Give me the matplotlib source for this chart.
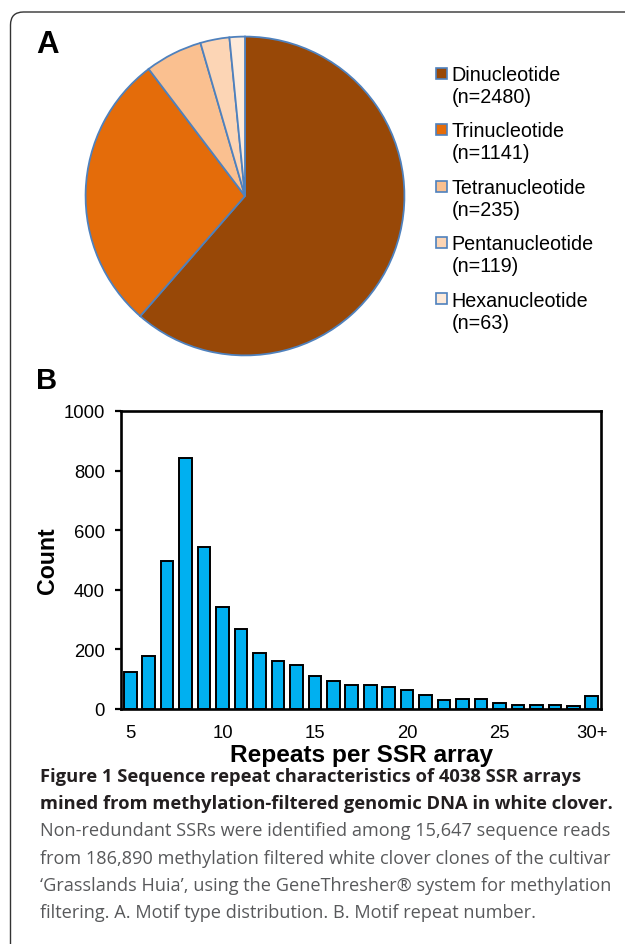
import matplotlib
matplotlib.use("Agg")
import matplotlib.pyplot as plt
from matplotlib.patches import FancyBboxPatch, Patch, Rectangle
from matplotlib.legend_handler import HandlerPatch

# ---------------- data ----------------
motif_names = ["Dinucleotide", "Trinucleotide", "Tetranucleotide", "Pentanucleotide", "Hexanucleotide"]
motif_counts = [2480, 1141, 235, 119, 63]
motif_colors = ["#984807", "#E46C0A", "#FAC090", "#FCD5B5", "#FDEADA"]

repeat_pos = list(range(5, 31))
repeat_counts = [123, 177, 495, 843, 544, 342, 268, 187, 160, 149, 111, 93, 81,
                 82, 75, 64, 47, 30, 34, 35, 19, 13, 12, 12, 9, 43]
xtick_pos = [5, 10, 15, 20, 25, 30]
xtick_labels = ["5", "10", "15", "20", "25", "30+"]
ytick_pos = [0, 200, 400, 600, 800, 1000]

caption_bold = ["Figure 1 Sequence repeat characteristics of 4038 SSR arrays",
                "mined from methylation-filtered genomic DNA in white clover."]
caption_reg = ["Non-redundant SSRs were identified among 15,647 sequence reads",
               "from 186,890 methylation filtered white clover clones of the cultivar",
               "\u2018Grasslands Huia\u2019, using the GeneThresher\u00ae system for methylation",
               "filtering. A. Motif type distribution. B. Motif repeat number."]

W, H = 625, 945
fig = plt.figure(figsize=(W / 100, H / 100), dpi=100)
plt.rcParams['font.family'] = ['Liberation Sans', 'DejaVu Sans']

# frame
frame = FancyBboxPatch((0.105, -0.3), 7.0, 9.32 + 0.3, boxstyle="round,pad=0,rounding_size=0.13",
                       transform=fig.dpi_scale_trans, facecolor="white", edgecolor="#333333",
                       linewidth=1.0, zorder=0)
fig.add_artist(frame)

# ---------------- pie ----------------
cx, cy, r = 245, 197, 161
axp = fig.add_axes([(cx - r) / W, 1 - (cy + r) / H, 2 * r / W, 2 * r / H])
wedges, _ = axp.pie(motif_counts, colors=motif_colors, startangle=90, counterclock=False,
                    wedgeprops=dict(edgecolor="#4F81BD", linewidth=1.3))
axp.set_xlim(-1.01, 1.01)
axp.set_ylim(-1.01, 1.01)
axp.set_aspect("equal")
axp.axis("off")


def top_square(legend, orig_handle, xdescent, ydescent, width, height, fontsize):
    s = 0.56 * fontsize
    return Rectangle((0, 0.72 * fontsize), s, s)


LFS = 14.2
handles = [Patch(facecolor=c, edgecolor="#4F81BD", linewidth=1.2) for c in motif_colors]
labels = [f"{n}\n(n={c})" for n, c in zip(motif_names, motif_counts)]
leg = fig.legend(handles, labels, loc="upper left", bbox_to_anchor=(436 / W, 1 - 66 / H),
                 frameon=False, fontsize=LFS, handlelength=0.56, handleheight=0.7,
                 handletextpad=0.22, labelspacing=0.78, borderaxespad=0, borderpad=0,
                 handler_map={Patch: HandlerPatch(patch_func=top_square)})

fig.text(36 / W, 1 - 45 / H, "A", fontsize=22.5, fontweight="bold", va="center", ha="left")
fig.text(36 / W, 1 - 381 / H, "B", fontsize=21, fontweight="bold", va="center", ha="left")

# ---------------- bars ----------------
axb = fig.add_axes([121 / W, 1 - 710 / H, 480 / W, 298 / H])
axb.bar(repeat_pos, repeat_counts, width=0.68, color="#00B0F0", edgecolor="black", linewidth=1.4)
axb.set_xlim(4.5, 30.5)
axb.set_ylim(0, 1000)
axb.set_yticks(ytick_pos)
axb.set_xticks(xtick_pos)
axb.set_xticklabels(xtick_labels)
for s in axb.spines.values():
    s.set_linewidth(1.9)
    s.set_color("black")
axb.tick_params(axis="y", length=4.5, width=1.6, labelsize=13.3, pad=7)
axb.tick_params(axis="x", length=0, labelsize=13.3, pad=11)
axb.set_xlabel("Repeats per SSR array", fontsize=17.6, fontweight="bold", labelpad=1)
axb.set_ylabel("Count", fontsize=16.7, fontweight="bold", labelpad=3)

# ---------------- caption ----------------
y0 = 777
lh = 27.2
for i, line in enumerate(caption_bold):
    fig.text(40 / W, 1 - (y0 + i * lh) / H, line, fontsize=13.2, fontweight="bold",
             family=["Open Sans", "DejaVu Sans"], color="#231F20", va="center", ha="left")
for j, line in enumerate(caption_reg):
    fig.text(40 / W, 1 - (y0 + (j + 2) * lh) / H, line, fontsize=13.1,
             family=["Open Sans", "DejaVu Sans"], color="#58595B", va="center", ha="left")

fig.savefig("out.png", dpi=100)
